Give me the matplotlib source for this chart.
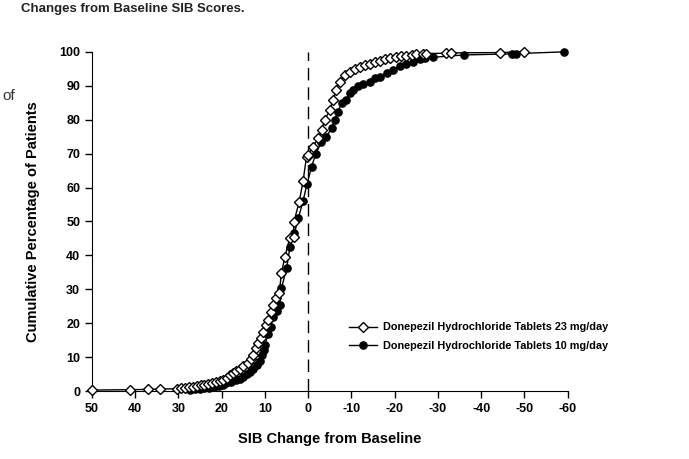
import matplotlib
matplotlib.use("Agg")
import matplotlib.pyplot as plt

# 23 mg/day (open diamonds): SIB change, cumulative %
x_23 = [50, 41.2, 37.0, 34.3, 30.3, 29.4, 28.5, 27.6, 26.7, 25.8, 24.9, 24.0, 23.1,
        22.2, 21.3, 20.4, 19.6, 18.8, 18.1, 17.3, 16.6, 15.8, 15.0, 13.9, 13.3, 12.7,
        12.1, 11.6, 11.0, 10.4, 9.8, 9.3, 8.7, 8.1, 7.4, 6.7, 6.2, 5.4, 4.3, 3.4, 3.3,
        2.1, 1.2, 0.4, 0.0, -1.1, -2.3, -3.1, -3.8, -5.0, -5.7, -6.5, -7.3, -8.5, -9.6,
        -10.8, -11.9, -13.1, -14.2, -15.4, -16.5, -17.7, -18.8, -20.4, -21.5, -22.7,
        -23.9, -25.0, -26.5, -27.2, -31.9, -33.0, -44.3, -50.0]
y_23 = [0.3, 0.4, 0.5, 0.6, 0.7, 0.9, 1.0, 1.2, 1.3, 1.5, 1.7, 1.9, 2.1,
        2.4, 2.7, 3.0, 3.4, 3.9, 4.7, 5.2, 5.9, 6.6, 7.3, 8.3, 9.5, 10.6,
        12.6, 14.3, 15.6, 17.5, 19.5, 21.0, 23.2, 25.4, 27.3, 29.0, 34.7, 39.6, 45.0, 45.5, 49.9,
        55.8, 61.8, 69.1, 69.6, 72.1, 74.5, 77.0, 79.9, 82.9, 85.8, 88.8, 91.2, 93.2, 94.2,
        95.0, 95.5, 96.0, 96.5, 96.9, 97.4, 97.8, 98.1, 98.4, 98.7, 98.9,
        99.1, 99.3, 99.4, 99.5, 99.6, 99.7, 99.8, 100.0]

# 10 mg/day (filled circles)
x_10 = [27.3, 26.2, 25.1, 24.0, 22.9, 21.8, 20.7, 19.8, 18.9, 17.8, 16.6, 15.8, 15.0,
        14.2, 13.5, 12.7, 11.9, 11.2, 10.8, 10.3, 10.0, 9.3, 8.6, 8.1, 7.3, 6.6, 6.2,
        5.0, 4.2, 3.2, 2.3, 1.2, 0.3, -0.8, -1.7, -3.0, -4.2, -5.4, -6.1, -6.9, -7.7,
        -8.8, -9.6, -10.4, -11.5, -12.7, -14.2, -15.4, -16.5, -18.1, -19.6, -21.2,
        -22.7, -24.2, -25.8, -26.9, -28.8, -36.1, -47.0, -48.1, -59.2]
y_10 = [0.3, 0.5, 0.6, 0.8, 1.0, 1.3, 1.6, 1.9, 2.3, 2.7, 3.2, 3.7, 4.2,
        4.9, 5.7, 6.6, 7.7, 9.0, 10.6, 12.0, 13.6, 16.8, 19.0, 21.9, 23.6, 25.4, 30.3,
        36.2, 42.6, 46.5, 50.9, 56.0, 61.0, 66.2, 69.8, 73.3, 75.0, 77.5, 79.9, 82.4, 84.9,
        85.8, 88.0, 88.8, 89.8, 90.6, 91.2, 92.2, 92.7, 93.7, 94.7, 95.7,
        96.5, 97.1, 97.8, 98.1, 98.4, 99.1, 99.4, 99.5, 100.0]

labels = ["Donepezil Hydrochloride Tablets 23 mg/day",
          "Donepezil Hydrochloride Tablets 10 mg/day"]
x_ticks = [50, 40, 30, 20, 10, 0, -10, -20, -30, -40, -50, -60]
y_ticks = [0, 10, 20, 30, 40, 50, 60, 70, 80, 90, 100]

plt.rcParams['font.family'] = ['Liberation Sans', 'DejaVu Sans']
plt.rcParams['axes.unicode_minus'] = False

fig = plt.figure(figsize=(6.89, 4.59), dpi=100)
ax = fig.add_axes([0.1335, 0.148, 0.6905, 0.739])

ax.plot(x_10, y_10, color='black', lw=1, marker='o', ms=5.2,
        mfc='black', mec='black', clip_on=False, label=labels[1], zorder=3)
ax.plot(x_23, y_23, color='black', lw=1, marker='D', ms=5.2,
        mfc='white', mec='black', mew=1, clip_on=False, label=labels[0], zorder=4)

ax.axvline(0, color='black', lw=1, linestyle=(0, (9, 5)), zorder=1)

ax.set_xlim(50, -60)
ax.set_ylim(0, 100)
ax.set_xticks(x_ticks)
ax.set_yticks(y_ticks)
ax.tick_params(direction='out', length=5, width=1, labelsize=9)
for lab in ax.get_xticklabels() + ax.get_yticklabels():
    lab.set_fontweight('bold')
for s in ['top', 'right']:
    ax.spines[s].set_visible(False)

ax.set_xlabel("SIB Change from Baseline", fontsize=10.5, fontweight='bold', labelpad=12)
ax.set_ylabel("Cumulative Percentage of Patients", fontsize=10.5, fontweight='bold', labelpad=14)

handles, labs = ax.get_legend_handles_labels()
ax.legend(handles[::-1], labs[::-1], loc='center left', bbox_to_anchor=(0.52, 0.16),
          frameon=False, handlelength=2.6, handletextpad=0.5,
          labelspacing=0.8, prop={'weight': 'bold', 'size': 7.8})

# text cropped from the source page
fig.text(0.03, 1 - 12 / 459, "Changes from Baseline SIB Scores.", fontsize=9.5,
         fontweight='bold', va='baseline', color='#222222')
fig.text(0.004, 1 - 100 / 459, "of", fontsize=11, va='baseline', color='#333333')

fig.savefig("out.png", dpi=100)
